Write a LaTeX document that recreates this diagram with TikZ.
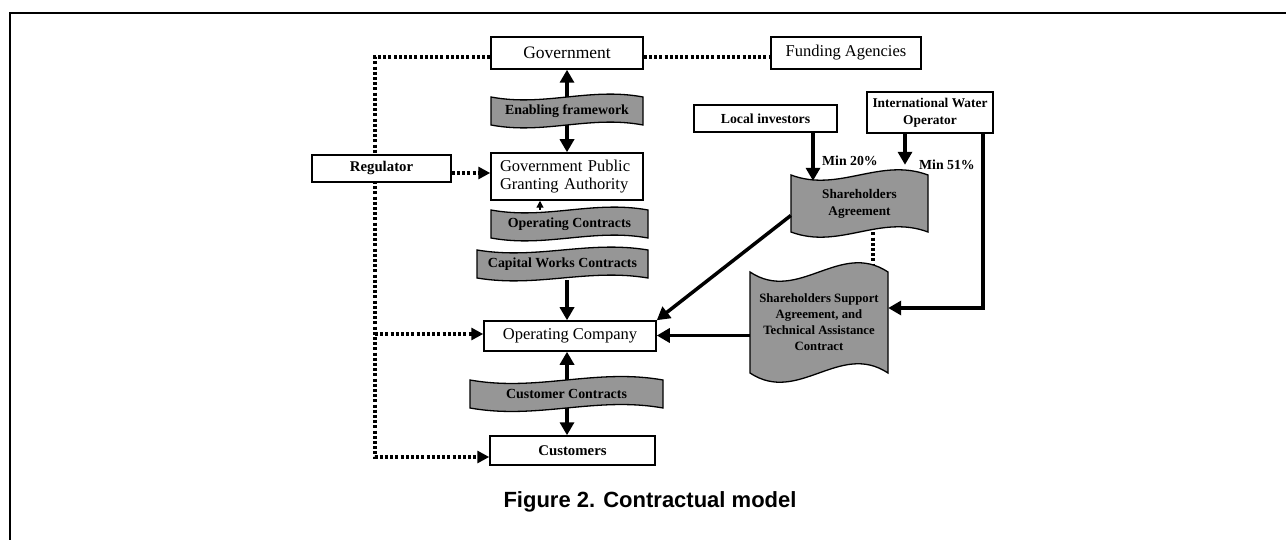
\documentclass[tikz,border=0pt]{standalone}
\usepackage{fontspec}
\setmainfont{Liberation Serif}
\newfontfamily\capfont{Liberation Sans}
\usetikzlibrary{arrows.meta,calc}
\definecolor{bannergray}{HTML}{969696}
\tikzset{
 box/.style={draw, line width=1.5pt, fill=white, inner sep=0pt, align=center, font=\fontsize{16.5}{18.5}\selectfont},
 bbox/.style={box, font=\bfseries\fontsize{13.8}{17}\selectfont},
 banner/.style={draw, line width=1.3pt, fill=bannergray},
 btext/.style={inner sep=0pt, align=center, font=\bfseries\fontsize{13.9}{16}\selectfont},
 arr/.style={line width=3.5pt, -{Triangle[length=13pt,width=14pt]}},
 dbl/.style={line width=3.5pt, {Triangle[length=13pt,width=14pt]}-{Triangle[length=13pt,width=14pt]}},
 thinarr/.style={line width=1.3pt, -{Triangle[length=7pt,width=7pt]}},
 dotl/.style={line width=3.6pt, dash pattern=on 3pt off 2.2pt},
 dotarr/.style={dotl, -{Triangle[length=12pt,width=12pt]}},
 lbl/.style={inner sep=0pt, anchor=west, font=\bfseries\fontsize{13.8}{16}\selectfont},
}
% wave banner: x1, ytop, x2, ybottom, k
\newcommand\wavebanner[5]{%
 \draw[banner] (#1,#2) .. controls ({#1+0.35*(#3-#1)},{#2+#5}) and ({#1+0.65*(#3-#1)},{#2-#5}) .. (#3,#2)
   -- (#3,#4) .. controls ({#1+0.65*(#3-#1)},{#4-#5}) and ({#1+0.35*(#3-#1)},{#4+#5}) .. (#1,#4) -- cycle;}
\begin{document}
\begin{tikzpicture}[x=1pt,y=-1pt]
\useasboundingbox (0,0) rectangle (1286,540);
\draw[line width=2.5pt] (10,540) -- (10,13) -- (1286,13);

% boxes
\node[box, minimum width=152, minimum height=32, font=\fontsize{17.5}{19}\selectfont] (gov) at (567,53) {Government};
\node[box, minimum width=150, minimum height=32] (fund) at (846,53) {Funding Agencies};
\node[box, minimum width=152, minimum height=47, text width=134pt, align=left] (gpga) at (567,176.5) {Government Public\\Granting Authority};
\node[box, minimum width=172, minimum height=30] (oc) at (570,336) {Operating Company};
\node[box, minimum width=165, minimum height=29, font=\bfseries\fontsize{14.8}{17}\selectfont] (cust) at (572.5,450.5) {Customers};
\node[bbox, minimum width=143, minimum height=27] (loc) at (765.5,118.5) {Local investors};
\node[bbox, minimum width=126, minimum height=41, font=\bfseries\fontsize{13.4}{17}\selectfont] (iwo) at (930,112.5) {International Water\\Operator};

% dotted left network
\coordinate (tl) at (375,57);
\coordinate (bl) at (375,457);
\draw[dotarr] ($(gov.west)+(0,4)$) -- (tl) -- (bl) -- ($(cust.west)+(0,6.5)$);
\draw[dotl] ($(gov.east)+(0,4)$) -- ($(fund.west)+(0,4)$);
\coordinate (ocl) at ($(oc.west)+(0,-2)$);
\draw[dotarr] (tl |- ocl) -- (ocl);
\node[box, minimum width=139, minimum height=27, font=\bfseries\fontsize{14.8}{17}\selectfont] (reg) at (381.5,168.5) {Regulator};
\coordinate (rege) at ($(reg.east)+(0,4.5)$);
\draw[dotarr] (rege) -- (gpga.west |- rege);

% connectors passing behind banners
\draw[dbl] (gov.south) -- (gpga.north);
\draw[dbl] (oc.south -| gov) -- (cust.north -| gov);
\draw[dotl] (873,222) -- (873,272);

% banners
\wavebanner{491}{97}{643}{125}{10}
\node[btext, minimum width=152, minimum height=32] (ef) at (567,111) {Enabling framework};
\wavebanner{491}{210}{648}{238}{10}
\node[btext, minimum width=157, minimum height=32] (opc) at (569.5,224) {Operating Contracts};
\wavebanner{477}{250}{648}{278}{10}
\node[btext, minimum width=171, minimum height=32] (cwc) at (562.5,264) {Capital Works Contracts};
\wavebanner{470}{380}{663}{408}{12}
\node[btext, minimum width=193, minimum height=32] (cc) at (566.5,394) {Customer Contracts};
\wavebanner{791}{175}{928}{232}{18}
\node[btext, minimum width=137, minimum height=57, font=\bfseries\fontsize{13.2}{17}\selectfont] (sa) at (859.5,203.5) {Shareholders\\Agreement};
\wavebanner{750}{272}{888}{373}{32}
\node[btext, minimum width=138, minimum height=101, font=\bfseries\fontsize{12.7}{16}\selectfont] (ssa) at (819,322.5) {Shareholders Support\\Agreement, and\\Technical Assistance\\Contract};

% connectors after banners
\draw[thinarr] ($(opc.north)+(-29.5,2)$) -- (gpga.south -| 540,0);
\draw[arr] (cwc.south -| gov) -- (oc.north -| gov);
\draw[arr] ($(loc.south)+(47.5,0)$) -- ($(sa.north)+(-46.5,6)$);
\node[lbl] (m20) at (822,161) {Min 20\%};
\draw[arr] ($(iwo.south)+(-25,0)$) -- ($(sa.north)+(45.5,-10)$);
\node[lbl] (m51) at (919,165) {Min 51\%};
\coordinate (iwoc) at (983,308);
\draw[arr, line join=miter] ($(iwo.south)+(53,0)$) -- (iwoc) -- (ssa.east |- iwoc);
\coordinate (ssal) at ($(ssa.west)+(0,13)$);
\draw[arr] (ssal) -- (oc.east |- ssal);
\draw[arr] ($(sa.west)+(0,12)$) -- (oc.north east);

% caption
\node[anchor=base, inner sep=0pt, font=\capfont\bfseries\fontsize{22}{26}\selectfont] (cap) at (650,507) {Figure 2. Contractual model};
\end{tikzpicture}
\end{document}
